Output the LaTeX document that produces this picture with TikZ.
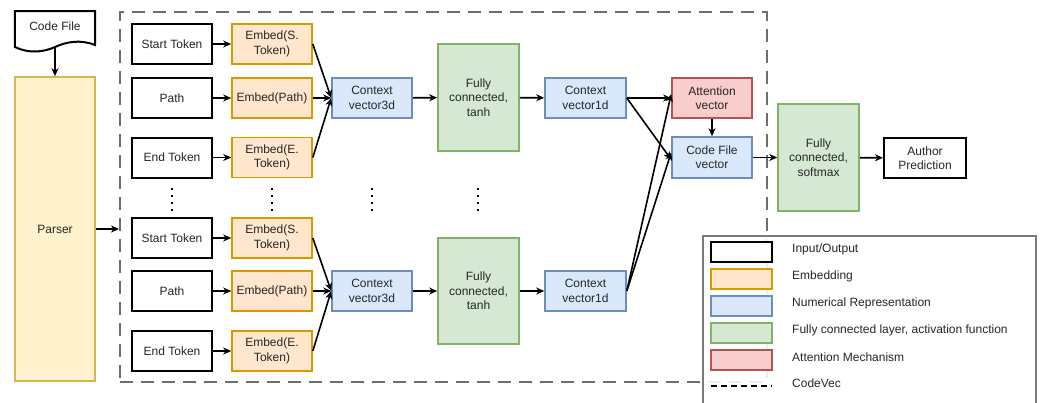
\documentclass[tikz,border=0pt]{standalone}
\usepackage{fontspec}
\setmainfont{Liberation Sans}
\usetikzlibrary{arrows.meta}
\definecolor{embF}{HTML}{FFE6CC}\definecolor{embD}{HTML}{D79B00}
\definecolor{numF}{HTML}{DAE8FC}\definecolor{numD}{HTML}{6C8EBF}
\definecolor{fcF}{HTML}{D5E8D4}\definecolor{fcD}{HTML}{82B366}
\definecolor{attF}{HTML}{F8CECC}\definecolor{attD}{HTML}{B85450}
\definecolor{parF}{HTML}{FFF2CC}\definecolor{parD}{HTML}{D6B656}
\definecolor{cvD}{HTML}{6E6E6E}
\definecolor{lgD}{HTML}{7A7A7A}
\tikzset{
  base/.style={rectangle, inner sep=0pt, align=center, minimum width=80, minimum height=40,
    font=\fontsize{12pt}{14.4pt}\selectfont, text=black!85},
  io/.style={base, draw=black, line width=2pt, fill=white},
  emb/.style={base, draw=embD, line width=1.6pt, fill=embF},
  num/.style={base, draw=numD, line width=1.6pt, fill=numF},
  fc/.style={base, draw=fcD, line width=1.6pt, fill=fcF, minimum width=81, minimum height=107},
  att/.style={base, draw=attD, line width=1.6pt, fill=attF},
  par/.style={base, draw=parD, line width=1.6pt, fill=parF},
  arr/.style={line width=1.6pt, -{Stealth[length=8pt, width=7pt, inset=2.5pt]}},
  dotm/.style={fill=black, inner sep=0pt, minimum size=1.6pt, rectangle},
  lgtext/.style={anchor=west, inner sep=0pt, font=\fontsize{12pt}{14.4pt}\selectfont, text=black!85},
  sw/.style={rectangle, inner sep=0pt, minimum width=61, minimum height=20},
}
\begin{document}
\begin{tikzpicture}[x=1pt, y=-1pt]
\useasboundingbox (0,0) rectangle (1044,402);
\fill[white] (0,0) rectangle (1044,402);

% CodeVec dashed region
\node[draw=cvD, line width=2pt, dash pattern=on 13pt off 8pt, rectangle, inner sep=0pt,
  minimum width=646.5, minimum height=370, anchor=north west] (cv) at (119,11) {};

% Code file document
\node[base, minimum width=80, minimum height=36, anchor=north] (cf) at (55,11) {};
\draw[line width=2pt, fill=white] (cf.north west) -- (cf.north east) -- (95,45)
  .. controls (80,39) and (66,42) .. (55,47)
  .. controls (42,53) and (27,53) .. (15,47) -- cycle;
\node[base, minimum width=0, minimum height=0] (cft) at (55,26) {Code File};
\coordinate (cfb) at (55,47);

% Parser
\node[par, minimum height=304] (parser) at (55,229) {Parser};
\draw[arr] (cfb) -- (parser.north);
\draw[arr] (parser.east) -- (parser.east -| cv.west);

% Top group
\node[io] (st1) at (172,44) {Start Token};
\node[io] (pa1) at (172,98) {Path};
\node[io] (et1) at (172,157.5) {End Token};
\node[emb] (es1) at (272,44) {Embed(S.\\Token)};
\node[emb] (ep1) at (272,98) {Embed(Path)};
\node[emb] (ee1) at (272,157.5) {Embed(E.\\Token)};
\node[num] (c3a) at (372,98) {Context\\vector3d};
\node[fc] (fa) at (478.5,97.5) {Fully\\connected,\\tanh};
\node[num, minimum width=81] (c1a) at (585.5,98) {Context\\vector1d};

% Bottom group
\node[io] (st2) at (172,238) {Start Token};
\node[io] (pa2) at (172,291) {Path};
\node[io] (et2) at (172,351) {End Token};
\node[emb] (es2) at (272,238) {Embed(S.\\Token)};
\node[emb] (ep2) at (272,291) {Embed(Path)};
\node[emb] (ee2) at (272,351) {Embed(E.\\Token)};
\node[num] (c3b) at (372,291) {Context\\vector3d};
\node[fc, minimum height=106] (fb) at (478.5,291) {Fully\\connected,\\tanh};
\node[num, minimum width=81] (c1b) at (585.5,291) {Context\\vector1d};

% Right side
\node[att] (att) at (712,98) {Attention\\vector};
\node[num, minimum height=41] (cfv) at (712,157.5) {Code File\\vector};
\node[fc] (fs) at (818.5,157.5) {Fully\\connected,\\softmax};
\node[io, minimum width=82] (ap) at (925,158) {Author\\Prediction};

% dots
\foreach \x [count=\i] in {171.7,272,372,478} {
  \foreach \y [count=\j] in {189,196,203,210} {
    \node[dotm] (d\i\j) at (\x,\y) {};
  }
}

% edges
\foreach \g in {1,2} {
  \draw[arr] (st\g) -- (es\g);
  \draw[arr] (pa\g) -- (ep\g);
  \draw[arr] (et\g) -- (ee\g);
}
\draw[arr] (es1.east) -- (c3a.west);
\draw[arr] (ep1.east) -- (c3a.west);
\draw[arr] (ee1.east) -- (c3a.west);
\draw[arr] (es2.east) -- (c3b.west);
\draw[arr] (ep2.east) -- (c3b.west);
\draw[arr] (ee2.east) -- (c3b.west);
\draw[arr] (c3a) -- (fa);
\draw[arr] (fa) -- (c1a);
\draw[arr] (c3b) -- (fb);
\draw[arr] (fb) -- (c1b);

\draw[arr] (c1a.east) -- (att.west);
\draw[arr] (c1a.east) -- ([yshift=-2pt]cfv.west);
\draw[arr] (c1b.east) -- ([yshift=4pt]att.west);
\draw[arr] (c1b.east) -- ([yshift=5pt]cfv.west);
\draw[arr] (att) -- (cfv);
\draw[arr] (cfv) -- (fs);
\draw[arr] (fs) -- (ap);

% Legend
\node[draw=lgD, line width=1.5pt, fill=white, fill opacity=0.88, rectangle, inner sep=0pt,
  minimum width=333, minimum height=175, anchor=north west] (lg) at (702,235) {};
\node[sw, draw=black, line width=2pt, fill=white] (l1) at (741.5,252) {};
\node[sw, draw=embD, line width=1.6pt, fill=embF] (l2) at (741.5,279) {};
\node[sw, draw=numD, line width=1.6pt, fill=numF] (l3) at (741.5,306) {};
\node[sw, draw=fcD, line width=1.6pt, fill=fcF] (l4) at (741.5,333) {};
\node[sw, draw=attD, line width=1.6pt, fill=attF] (l5) at (741.5,360) {};
\coordinate (l6a) at (711,386);
\coordinate (l6b) at (772,386);
\draw[line width=1.6pt, dash pattern=on 6pt off 4pt] (l6a) -- (l6b);
\node[lgtext] (t1) at (792,249) {Input/Output};
\node[lgtext] (t2) at (792,276) {Embedding};
\node[lgtext] (t3) at (792,303) {Numerical Representation};
\node[lgtext] (t4) at (792,330) {Fully connected layer, activation function};
\node[lgtext] (t5) at (792,357) {Attention Mechanism};
\node[lgtext] (t6) at (792,383) {CodeVec};
\end{tikzpicture}
\end{document}
